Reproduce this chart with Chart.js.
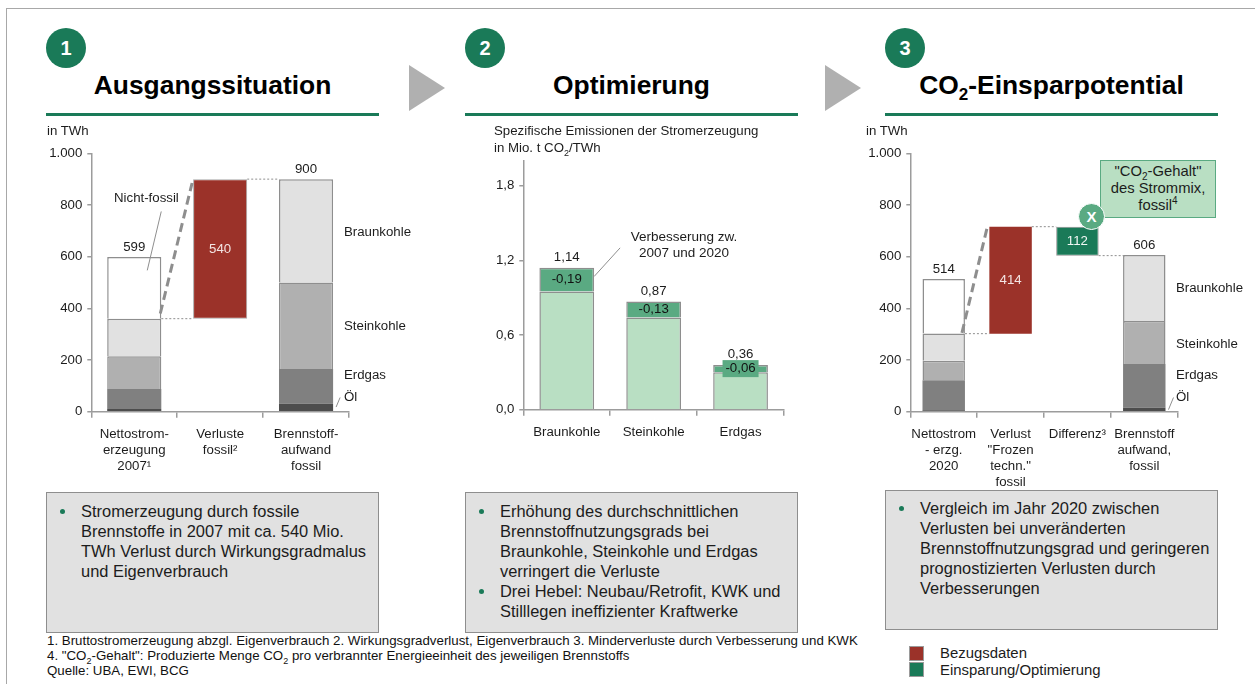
<!DOCTYPE html>
<html lang="de">
<head>
<meta charset="utf-8">
<title>CO2-Einsparpotential</title>
<script src="https://cdn.jsdelivr.net/npm/chart.js@4"></script>
<style>
  html, body { margin: 0; padding: 0; background: #fff; }
  body { position: relative; width: 1255px; height: 684px; overflow: hidden; font-family: "Liberation Sans", Arial, sans-serif; color: #1c1c1c; }
  .abs { position: absolute; white-space: nowrap; }
  canvas { position: absolute; }
  .frame-top { position: absolute; left: 6px; top: 8px; right: 0; height: 1px; background: #a8a8a8; }
  .frame-left { position: absolute; left: 6px; top: 8px; bottom: 0; width: 1px; background: #a8a8a8; }
  .circle { position: absolute; top: 28px; width: 40px; height: 40px; border-radius: 50%; background: #1a7a58; color: #fff; font-weight: bold; font-size: 20px; line-height: 40px; text-align: center; }
  .title { position: absolute; top: 68px; font-size: 26.4px; font-weight: bold; line-height: 34px; text-align: center; color: #000; white-space: nowrap; }
  .title sub { font-size: 17px; line-height: 0; }
  .rule { position: absolute; top: 113px; width: 333px; height: 3px; background: #1a7a58; }
  .arrow { position: absolute; top: 65px; width: 0; height: 0; border-top: 23.5px solid transparent; border-bottom: 23.5px solid transparent; border-left: 36px solid #b0b0b0; }
  .small { font-size: 13.25px; line-height: 16px; }
  .box { position: absolute; width: 331px; background: #e1e1e1; border: 1px solid #8e8e8e; font-size: 16.45px; line-height: 20px; }
  .box div { position: absolute; white-space: nowrap; }
  .box .dot { width: 5px; height: 5px; border-radius: 50%; background: #1a7a58; }
  .foot { font-size: 13.3px; line-height: 15px; color: #111; }
  .foot sub { font-size: 9px; line-height: 0; }
  .swatch { position: absolute; left: 909px; width: 13px; height: 13px; border: 1px solid #9a9a9a; }
  .callout { position: absolute; left: 1100px; top: 160px; width: 114px; height: 54px; background: #b9dfc3; border: 1px solid #5aaa82; font-size: 14.8px; line-height: 17px; text-align: center; padding-top: 2px; }
  .callout sub { font-size: 10px; line-height: 0; }
  .callout sup { font-size: 10px; line-height: 0; }
  .x-badge { position: absolute; left: 1078px; top: 203px; width: 25px; height: 25px; border-radius: 50%; background: #5aaa82; border: 1.5px solid #fff; color: #fff; font-weight: bold; font-size: 15px; line-height: 25px; text-align: center; }
</style>
</head>
<body>
<div class="frame-top"></div>
<div class="frame-left"></div>

<div class="circle" style="left:46px">1</div>
<div class="circle" style="left:465px">2</div>
<div class="circle" style="left:885px">3</div>

<div class="title" style="left:46px;width:333px">Ausgangssituation</div>
<div class="title" style="left:465px;width:333px">Optimierung</div>
<div class="title" style="left:885px;width:333px">CO<sub>2</sub>-Einsparpotential</div>
<div class="rule" style="left:46px"></div>
<div class="rule" style="left:465px"></div>
<div class="rule" style="left:885px"></div>
<div class="arrow" style="left:409px"></div>
<div class="arrow" style="left:825px"></div>

<canvas id="chartAusgang" width="360" height="365" style="left:40px;top:135px"></canvas>
<canvas id="chartOptimierung" width="320" height="340" style="left:475px;top:135px"></canvas>
<canvas id="chartEinspar" width="395" height="365" style="left:860px;top:135px"></canvas>

<div class="abs small" style="left:47px;top:123px">in TWh</div>
<div class="abs small" style="left:114px;top:190px">Nicht-fossil</div>
<div class="abs small" style="left:344px;top:224px">Braunkohle</div>
<div class="abs small" style="left:344px;top:318px">Steinkohle</div>
<div class="abs small" style="left:344px;top:367px">Erdgas</div>
<div class="abs small" style="left:344px;top:389px">Öl</div>

<div class="abs small" style="left:494px;top:123px">Spezifische Emissionen der Stromerzeugung</div>
<div class="abs small" style="left:494px;top:140px">in Mio. t CO<sub style="font-size:9px;line-height:0">2</sub>/TWh</div>
<div class="abs small" style="left:604px;width:160px;top:229px;text-align:center;font-size:13.5px">Verbesserung zw.<br>2007 und 2020</div>

<div class="abs small" style="left:866px;top:123px">in TWh</div>
<div class="abs small" style="left:1176px;top:280px">Braunkohle</div>
<div class="abs small" style="left:1176px;top:336px">Steinkohle</div>
<div class="abs small" style="left:1176px;top:367px">Erdgas</div>
<div class="abs small" style="left:1176px;top:389px">Öl</div>

<div class="callout">"CO<sub>2</sub>-Gehalt"<br>des Strommix,<br>fossil<sup>4</sup></div>
<div class="x-badge">X</div>

<div class="box" style="left:46px;top:492px;height:139px">
  <div class="dot" style="left:13px;top:16px"></div>
  <div style="left:34px;top:8px">Stromerzeugung durch fossile<br>Brennstoffe in 2007 mit ca. 540 Mio.<br>TWh Verlust durch Wirkungsgradmalus<br>und Eigenverbrauch</div>
</div>
<div class="box" style="left:465px;top:492px;height:139px">
  <div class="dot" style="left:13px;top:16px"></div>
  <div class="dot" style="left:13px;top:96px"></div>
  <div style="left:34px;top:8px">Erhöhung des durchschnittlichen<br>Brennstoffnutzungsgrads bei<br>Braunkohle, Steinkohle und Erdgas<br>verringert die Verluste<br>Drei Hebel: Neubau/Retrofit, KWK und<br>Stilllegen ineffizienter Kraftwerke</div>
</div>
<div class="box" style="left:885px;top:490px;height:138px">
  <div class="dot" style="left:13px;top:15px"></div>
  <div style="left:34px;top:7px">Vergleich im Jahr 2020 zwischen<br>Verlusten bei unveränderten<br>Brennstoffnutzungsgrad und geringeren<br>prognostizierten Verlusten durch<br>Verbesserungen</div>
</div>

<div class="abs foot" style="left:47px;top:633px">1. Bruttostromerzeugung abzgl. Eigenverbrauch 2. Wirkungsgradverlust, Eigenverbrauch 3. Minderverluste durch Verbesserung und KWK<br>4. "CO<sub>2</sub>-Gehalt": Produzierte Menge CO<sub>2</sub> pro verbrannter Energieeinheit des jeweiligen Brennstoffs<br>Quelle: UBA, EWI, BCG</div>

<div class="swatch" style="top:646px;background:#9b3229"></div>
<div class="swatch" style="top:662px;background:#1a7a58"></div>
<div class="abs" style="left:940px;top:645px;font-size:14.9px;line-height:17px">Bezugsdaten<br>Einsparung/Optimierung</div>

<script>
const fontName = '"Liberation Sans", Arial, sans-serif';
const axisGray = '#9c9c9c';
const edgeGray = '#8e8e8e';

const colors = {
  oel: '#4d4d4d', erdgas: '#808080', stein: '#b0b0b0', braun: '#e1e1e1', white: '#ffffff',
  red: '#9b3229', green: '#1a7a58', midGreen: '#5aaa82', lightGreen: '#b9dfc3'
};

// Chart 1
const ausgangCategories = [['Nettostrom-', 'erzeugung', '2007¹'], ['Verluste', 'fossil²'], ['Brennstoff-', 'aufwand', 'fossil']];
const ausgangOffset = [null, 360, null];
const ausgangOel = [10, null, 31];
const ausgangErdgas = [78, null, 134];
const ausgangStein = [127, null, 335];
const ausgangBraun = [145, null, 400];
const ausgangNichtFossil = [239, null, null];
const ausgangVerlust = [null, 540, null];
const ausgangTotals = [599, null, 900];
const twhTicks = [0, 200, 400, 600, 800, 1000];

// Chart 2
const optimierungCategories = ['Braunkohle', 'Steinkohle', 'Erdgas'];
const optimierungNachher = [0.95, 0.74, 0.30];
const optimierungDelta = [0.19, 0.13, 0.06];
const optimierungTotals = [1.14, 0.87, 0.36];
const emissionTicks = [0, 0.6, 1.2, 1.8];

// Chart 3
const einsparCategories = [['Nettostrom', '- erzg.', '2020'], ['Verlust', '"Frozen', 'techn."', 'fossil'], ['Differenz³'], ['Brennstoff', 'aufwand,', 'fossil']];
const einsparOffset = [null, 302, 604, null];
const einsparOel = [6, null, null, 15];
const einsparErdgas = [116, null, null, 170];
const einsparStein = [75, null, null, 166];
const einsparBraun = [106, null, null, 255];
const einsparNichtFossil = [211, null, null, null];
const einsparVerlust = [null, 414, null, null];
const einsparDifferenz = [null, null, 112, null];
const einsparTotals = [514, null, null, 606];

// stacked pieces keep only sides + top so the joins stay one line thick
function seg(label, data, color, border = edgeGray, width = 1.5) {
  return { label, data, backgroundColor: color, borderColor: border, borderWidth: width, borderSkipped: 'start' };
}

function comma(v, digits) {
  return v.toFixed(digits).replace('.', ',');
}

function makeChart(id, categories, datasets, geo, yTicks, yFormat, yMax, notes) {
  return new Chart(document.getElementById(id), {
    type: 'bar',
    data: { labels: categories, datasets },
    options: {
      responsive: false,
      animation: false,
      devicePixelRatio: 1,
      layout: { padding: { left: 0, right: geo.right, top: geo.top, bottom: 0 } },
      datasets: { bar: { barPercentage: geo.bar, categoryPercentage: 1 } },
      plugins: { legend: { display: false }, tooltip: { enabled: false } },
      scales: {
        x: {
          stacked: true,
          grid: { drawOnChartArea: false, color: axisGray, lineWidth: 1.5, tickLength: 6, offset: true },
          border: { color: axisGray, width: 1.5 },
          ticks: { color: '#1c1c1c', font: { family: fontName, size: 13.25, lineHeight: 1.21 }, autoSkip: false, maxRotation: 0, padding: 9 },
          afterFit: s => { s.height = geo.xHeight; }
        },
        y: {
          stacked: true,
          min: 0,
          max: yMax,
          grid: { drawOnChartArea: false, color: axisGray, lineWidth: 1.5, tickLength: 4 },
          border: { color: axisGray, width: 1.5 },
          ticks: { color: '#1c1c1c', font: { family: fontName, size: 13.25 }, padding: 5, callback: yFormat },
          afterBuildTicks: s => { s.ticks = yTicks.map(value => ({ value })); },
          afterFit: s => { s.width = geo.yWidth; }
        }
      }
    },
    plugins: [{ id: 'notes', afterDatasetsDraw: c => notes(c, c.ctx) }]
  });
}

// small drawing helpers for the connector lines and value labels
function line(ctx, x1, y1, x2, y2, color, width, dash) {
  ctx.save();
  ctx.strokeStyle = color;
  ctx.lineWidth = width;
  ctx.setLineDash(dash || []);
  ctx.beginPath();
  ctx.moveTo(x1, y1);
  ctx.lineTo(x2, y2);
  ctx.stroke();
  ctx.restore();
}

function label(ctx, text, x, y, color) {
  ctx.save();
  ctx.font = '13.25px ' + fontName;
  ctx.fillStyle = color || '#1c1c1c';
  ctx.textAlign = 'center';
  ctx.textBaseline = 'middle';
  ctx.fillText(text, x, y);
  ctx.restore();
}

function edges(chart, i) {
  const el = chart.getDatasetMeta(0).data[i];
  return { x: el.x, left: el.x - el.width / 2, right: el.x + el.width / 2 };
}

const dashConnector = [9, 5];
const dotConnector = [2, 2];

makeChart('chartAusgang', ausgangCategories, [
  seg('Basis', ausgangOffset, 'transparent', 'transparent', 0),
  seg('Öl', ausgangOel, colors.oel, colors.oel, 0),
  seg('Erdgas', ausgangErdgas, colors.erdgas, colors.erdgas, 0),
  seg('Steinkohle', ausgangStein, colors.stein),
  seg('Braunkohle', ausgangBraun, colors.braun),
  seg('Nicht-fossil', ausgangNichtFossil, colors.white),
  { ...seg('Verluste', ausgangVerlust, colors.red, '#a8a8a8', 1), borderSkipped: false }
], { right: 51, top: 18.3, xHeight: 88.3, yWidth: 51.3, bar: 0.63 }, twhTicks,
  v => v.toLocaleString('de-DE'), 1000, (c, ctx) => {
    const y = c.scales.y;
    const b0 = edges(c, 0), b1 = edges(c, 1), b2 = edges(c, 2);
    line(ctx, b0.right, y.getPixelForValue(360), b1.left, y.getPixelForValue(360), edgeGray, 1, dotConnector);
    line(ctx, b1.right, y.getPixelForValue(900), b2.left, y.getPixelForValue(900), edgeGray, 1, dotConnector);
    line(ctx, b0.right - 1, y.getPixelForValue(380), b1.left - 1, y.getPixelForValue(885), edgeGray, 3, dashConnector);
    line(ctx, b0.x + 27, y.getPixelForValue(775), b0.x + 13, y.getPixelForValue(547), edgeGray, 1);
    line(ctx, b2.right + 7, y.getPixelForValue(55), b2.right + 3, y.getPixelForValue(18), edgeGray, 1);
    ausgangTotals.forEach((t, i) => {
      if (t !== null) label(ctx, String(t), edges(c, i).x, y.getPixelForValue(t) - 10);
    });
    label(ctx, String(ausgangVerlust[1]), b1.x, y.getPixelForValue(ausgangOffset[1] + ausgangVerlust[1] / 2), '#f3e4e2');
  });

makeChart('chartOptimierung', optimierungCategories, [
  seg('Nachher', optimierungNachher, colors.lightGreen),
  seg('Verbesserung', optimierungDelta, colors.midGreen)
], { right: 11, top: 25.7, xHeight: 65.3, yWidth: 48.3, bar: 0.63 }, emissionTicks,
  v => comma(v, 1), 2, (c, ctx) => {
    const y = c.scales.y;
    const b0 = edges(c, 0);
    line(ctx, b0.right, y.getPixelForValue(1.07), b0.right + 26, y.getPixelForValue(1.3), edgeGray, 1);
    optimierungTotals.forEach((t, i) => {
      const b = edges(c, i);
      label(ctx, comma(t, 2), b.x, y.getPixelForValue(t) - (i === 2 ? 11 : 10));
      const mid = y.getPixelForValue(optimierungNachher[i] + optimierungDelta[i] / 2);
      if (i === 2) {
        ctx.fillStyle = colors.midGreen;
        ctx.fillRect(b.x - 18, mid - 8.5, 36, 17);
      }
      label(ctx, '-' + comma(optimierungDelta[i], 2), b.x, mid, '#111');
    });
  });

makeChart('chartEinspar', einsparCategories, [
  seg('Basis', einsparOffset, 'transparent', 'transparent', 0),
  seg('Öl', einsparOel, colors.oel, colors.oel, 0),
  seg('Erdgas', einsparErdgas, colors.erdgas, colors.erdgas, 0),
  seg('Steinkohle', einsparStein, colors.stein),
  seg('Braunkohle', einsparBraun, colors.braun),
  seg('Nicht-fossil', einsparNichtFossil, colors.white),
  seg('Verlust', einsparVerlust, colors.red, colors.red, 0),
  { ...seg('Differenz', einsparDifferenz, colors.green, edgeGray, 1), borderSkipped: false }
], { right: 77.3, top: 18.3, xHeight: 88.3, yWidth: 50.3, bar: 0.635 }, twhTicks,
  v => v.toLocaleString('de-DE'), 1000, (c, ctx) => {
    const y = c.scales.y;
    const b0 = edges(c, 0), b1 = edges(c, 1), b2 = edges(c, 2), b3 = edges(c, 3);
    line(ctx, b0.right, y.getPixelForValue(302), b1.left, y.getPixelForValue(302), edgeGray, 1, dotConnector);
    line(ctx, b1.right, y.getPixelForValue(716), b2.left, y.getPixelForValue(716), edgeGray, 1, dotConnector);
    line(ctx, b2.right, y.getPixelForValue(604), b3.left, y.getPixelForValue(604), edgeGray, 1, dotConnector);
    line(ctx, b0.right - 3, y.getPixelForValue(305), b1.left - 2, y.getPixelForValue(716), edgeGray, 3, dashConnector);
    line(ctx, b3.right + 8, y.getPixelForValue(55), b3.right + 3, y.getPixelForValue(8), edgeGray, 1);
    einsparTotals.forEach((t, i) => {
      if (t !== null) label(ctx, String(t), edges(c, i).x, y.getPixelForValue(t) - 10);
    });
    label(ctx, String(einsparVerlust[1]), b1.x, y.getPixelForValue(einsparOffset[1] + einsparVerlust[1] / 2), '#f3e4e2');
    label(ctx, String(einsparDifferenz[2]), b2.x, y.getPixelForValue(einsparOffset[2] + einsparDifferenz[2] / 2), '#f1f7f4');
  });
</script>
</body>
</html>
